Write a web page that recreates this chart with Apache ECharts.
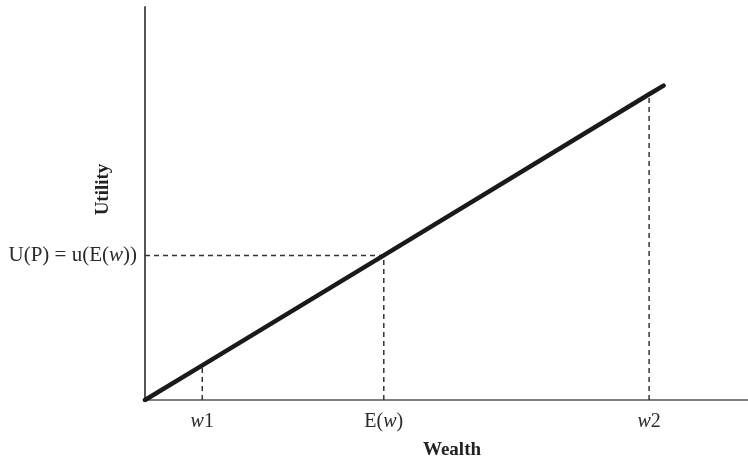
<!DOCTYPE html>
<html><head><meta charset="utf-8">
<script src="https://cdn.jsdelivr.net/npm/echarts@6/dist/echarts.min.js"></script>
<style>html,body{margin:0;padding:0;background:#fff}#c{width:748px;height:461px}</style>
</head><body><div id="c"></div>
<script>
// Wealth values (x) and utility values (y) along the linear utility curve
const wealthPoints = [0, 9.5, 39.6, 83.6, 86.0];
const utilityPoints = [0, 8.8, 36.8, 77.8, 80.0];
// Marked points: w1, E(w), w2
const markWealth = [9.5, 39.6, 83.6];
const markUtility = [8.8, 36.8, 77.8];
const markLabels = ['w1', 'E(w)', 'w2'];
const utilityTick = 36.8;
const utilityLabel = 'U(P) = u(E(w))';

const serif = '"Liberation Serif","DejaVu Serif",serif';
const curve = wealthPoints.map((x, i) => [x, utilityPoints[i]]);
const dashSeries = markWealth.map((x, i) => ({
  type: 'line', data: [[x, 0], [x, markUtility[i]]], symbol: 'none', silent: true,
  lineStyle: {color: '#333', width: 1.5, type: [5, 4]}, z: 1
}));
dashSeries.push({
  type: 'line', data: [[0, utilityTick], [markWealth[1], utilityTick]], symbol: 'none', silent: true,
  lineStyle: {color: '#333', width: 1.5, type: [5, 4]}, z: 1
});

function richW(s) {
  return s.replace(/w/g, '{i|w}');
}

const chart = echarts.init(document.getElementById('c'), null, {renderer: 'canvas'});
chart.setOption({
  animation: false,
  grid: {left: 145, right: 0, top: 7, bottom: 61, containLabel: false, outerBoundsMode: 'none'},
  xAxis: {
    type: 'value', min: 0, max: 100,
    name: 'Wealth', nameLocation: 'middle', nameGap: 41, nameMoveOverlap: false,
    nameTextStyle: {fontFamily: serif, fontWeight: 'bold', fontSize: 19, color: '#222', padding: [0, 0, 0, 11]},
    axisLine: {lineStyle: {color: '#555', width: 1.5}},
    axisTick: {show: false},
    splitLine: {show: false},
    axisLabel: {
      customValues: markWealth, margin: 12,
      formatter: v => richW(markLabels[markWealth.indexOf(v)] || ''),
      fontFamily: serif, fontSize: 20, color: '#2a2a2a',
      rich: {i: {fontFamily: serif, fontStyle: 'italic', fontSize: 20, color: '#2a2a2a'}}
    }
  },
  yAxis: {
    type: 'value', min: 0, max: 100,
    name: 'Utility', nameLocation: 'middle', nameGap: 32, nameRotate: 90, nameMoveOverlap: false,
    nameTextStyle: {fontFamily: serif, fontWeight: 'bold', fontSize: 19, color: '#222', padding: [0, 0, 0, 28]},
    axisLine: {lineStyle: {color: '#555', width: 2}},
    axisTick: {show: false},
    splitLine: {show: false},
    axisLabel: {
      customValues: [utilityTick], margin: 8,
      formatter: () => richW(utilityLabel),
      fontFamily: serif, fontSize: 21, color: '#2a2a2a',
      rich: {i: {fontFamily: serif, fontStyle: 'italic', fontSize: 21, color: '#2a2a2a'}}
    }
  },
  series: [{
    type: 'line', data: curve, symbol: 'none', silent: true,
    lineStyle: {color: '#1a1a1a', width: 4.5, cap: 'round'}, z: 3
  }].concat(dashSeries)
});
</script></body></html>
